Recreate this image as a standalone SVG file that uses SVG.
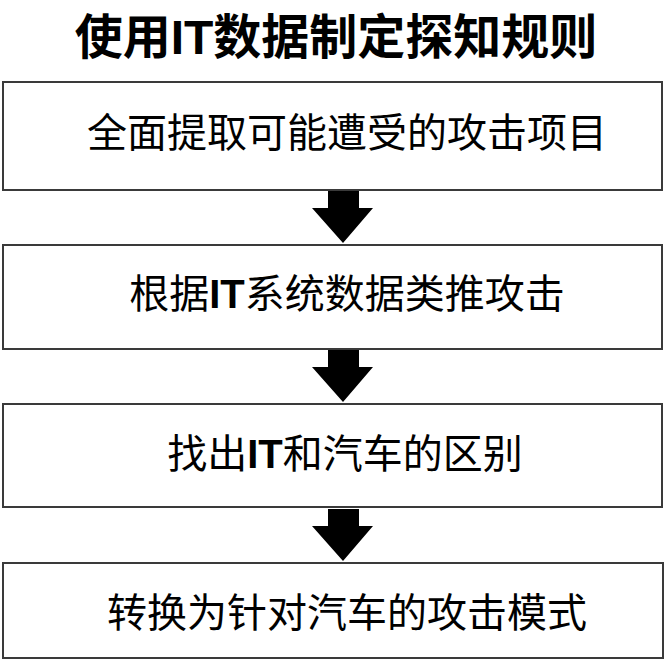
<svg xmlns="http://www.w3.org/2000/svg" width="667" height="663" viewBox="0 0 667 663">
<style>
.box{fill:#fff;stroke:#3a3a3a;stroke-width:2}
.t{font-family:"Liberation Sans","Noto Sans CJK SC",sans-serif;font-size:40px;fill:#000;text-anchor:middle}
.b{font-weight:bold}
.title{font-family:"Liberation Sans","Noto Sans CJK SC",sans-serif;font-size:48px;font-weight:bold;fill:#000;text-anchor:middle}
.arr{fill:#000}
</style>
<defs>
<path id="arrow" d="M328,0 H359 V17 H373 L343,52 L312,17 H328 Z"/>
</defs>
<rect width="667" height="663" fill="#fff"/>
<text class="title" x="336" y="54">使用IT数据制定探知规则</text>
<g id="node1"><rect class="box" x="3" y="82" width="659" height="108"/><text class="t" x="347" y="147">全面提取可能遭受的攻击项目</text></g>
<g id="node2"><rect class="box" x="3" y="245" width="659" height="104"/><text class="t" x="347" y="308">根据<tspan class="b">IT</tspan>系统数据类推攻击</text></g>
<g id="node3"><rect class="box" x="3" y="404" width="659" height="103"/><text class="t" x="345" y="468">找出<tspan class="b">IT</tspan>和汽车的区别</text></g>
<g id="node4"><rect class="box" x="3" y="563" width="660" height="95"/><text class="t" x="347" y="627">转换为针对汽车的攻击模式</text></g>
<g id="connectors">
<use href="#arrow" class="arr" y="191"/>
<use href="#arrow" class="arr" y="350"/>
<use href="#arrow" class="arr" y="509"/>
</g>
</svg>
